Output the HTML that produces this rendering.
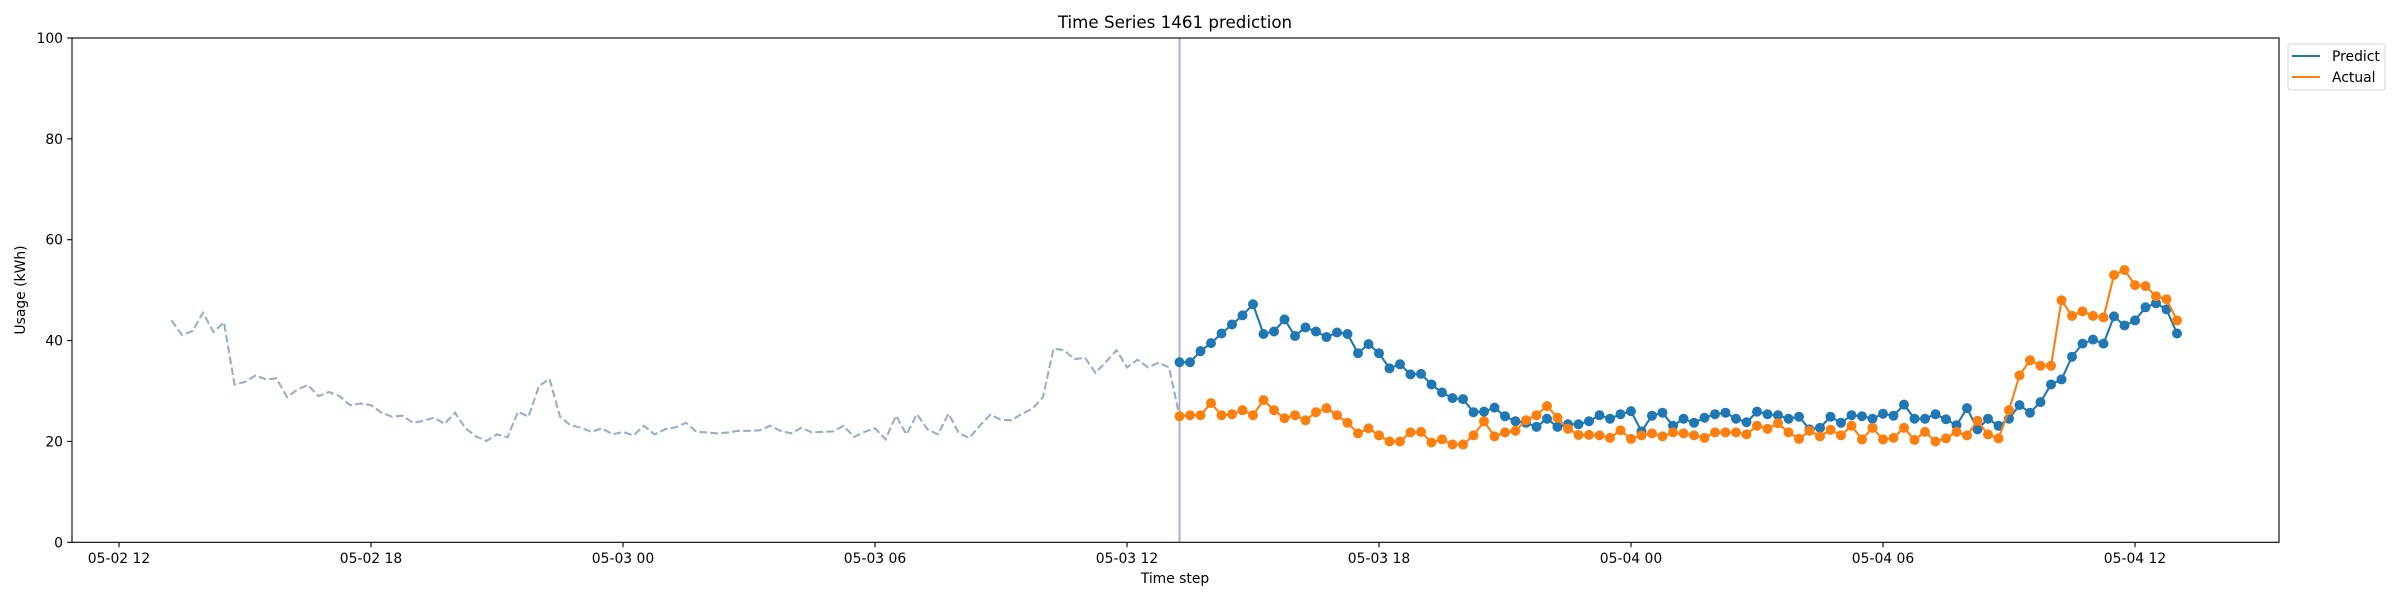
<!DOCTYPE html>
<html><head><meta charset="utf-8"><style>
html,body{margin:0;padding:0;background:#fff}
svg{display:block;font-family:"DejaVu Sans","Liberation Sans",sans-serif}
</style></head><body>
<svg id="chart" width="2400" height="600" viewBox="0 0 2400 600" xmlns="http://www.w3.org/2000/svg">
<rect x="0" y="0" width="2400" height="600" fill="#fff"/>
<text x="1175" y="28" font-size="16.7" text-anchor="middle">Time Series 1461 prediction</text>
<g id="series"></g>
<rect x="72" y="38" width="2207" height="504.3" fill="none" stroke="#000" stroke-width="1.1"/>
<g id="axes"></g>
<text x="1175" y="583" font-size="13.9" text-anchor="middle">Time step</text>
<text transform="translate(25,290) rotate(-90)" font-size="13.9" text-anchor="middle">Usage (kWh)</text>
<g>
<rect x="2288" y="44" width="97" height="46" rx="3" fill="#fff" stroke="#d6d6d6"/>
<line x1="2292" y1="56" x2="2320" y2="56" stroke="#1f77b4" stroke-width="2.1"/>
<text x="2332" y="61" font-size="13.9">Predict</text>
<line x1="2292" y1="77" x2="2320" y2="77" stroke="#ff7f0e" stroke-width="2.1"/>
<text x="2332" y="82" font-size="13.9">Actual</text>
</g>
</svg>
<script>
const history = [44.0,41.1,41.9,45.5,41.7,43.6,31.3,31.8,33.1,32.3,32.5,28.8,30.3,31.2,29.0,29.8,29.0,27.2,27.5,27.2,25.7,24.9,25.1,23.7,24.1,24.7,23.5,25.7,22.6,21.0,20.1,21.4,20.8,25.9,24.9,31.0,32.4,24.9,23.2,22.7,21.9,22.6,21.4,21.9,21.2,23.1,21.4,22.4,22.8,23.7,21.9,21.8,21.6,21.8,22.1,22.1,22.2,23.1,22.1,21.6,22.7,21.8,21.9,22.0,23.1,20.9,21.9,22.6,20.4,25.1,21.4,25.4,22.4,21.4,25.5,21.6,20.7,23.2,25.3,24.3,24.2,25.5,26.5,28.8,38.4,38.1,36.3,36.6,33.6,35.8,38.1,34.7,36.2,34.7,35.6,34.7];
const predict = [35.7,35.7,37.9,39.5,41.4,43.2,45.0,47.2,41.3,41.8,44.2,40.9,42.6,41.8,40.7,41.6,41.3,37.5,39.3,37.5,34.5,35.3,33.3,33.4,31.3,29.7,28.6,28.4,25.8,25.9,26.7,25.0,24.0,23.7,22.9,24.5,22.9,23.4,23.4,24.0,25.2,24.5,25.4,26.0,22.0,25.1,25.7,23.1,24.5,23.7,24.7,25.4,25.7,24.5,23.8,25.9,25.4,25.2,24.5,24.9,22.4,22.7,24.9,23.7,25.2,25.0,24.5,25.5,25.1,27.3,24.5,24.5,25.4,24.4,23.2,26.6,22.4,24.5,23.1,24.5,27.2,25.7,27.8,31.3,32.3,36.8,39.4,40.2,39.4,44.8,43.0,44.0,46.6,47.4,46.2,41.4];
const actual = [25.0,25.2,25.2,27.6,25.2,25.4,26.2,25.2,28.2,26.2,24.6,25.2,24.2,25.8,26.6,25.2,23.7,21.6,22.6,21.2,20.0,20.0,21.8,21.9,19.8,20.4,19.4,19.4,21.2,24.0,21.0,21.8,22.1,24.2,25.2,27.0,24.7,22.5,21.3,21.3,21.2,20.7,22.2,20.5,21.2,21.6,21.0,21.8,21.6,21.2,20.7,21.8,21.8,21.8,21.4,23.1,22.5,23.6,21.8,20.5,22.1,21.0,22.3,21.2,23.1,20.4,22.7,20.4,20.7,22.7,20.3,21.9,20.0,20.6,21.9,21.2,24.1,21.4,20.6,26.2,33.1,36.1,35.0,35.0,48.0,44.9,45.8,44.9,44.6,53.0,54.0,51.0,50.8,48.8,48.2,44.0];
const xTickLabels = ["05-02 12","05-02 18","05-03 00","05-03 06","05-03 12","05-03 18","05-04 00","05-04 06","05-04 12"];
const yTicks = [0,20,40,60,80,100];
const historyStart = 5; // quarter-hours after 05-02 12:00

const NS="http://www.w3.org/2000/svg";
function X(t){return 119 + t*10.5;}
function Y(v){return 542.3 - v*5.043;}
function mk(tag,attrs,parent){const e=document.createElementNS(NS,tag);for(const k in attrs)e.setAttribute(k,attrs[k]);parent.appendChild(e);return e;}
const axes=document.getElementById('axes'), series=document.getElementById('series');

xTickLabels.forEach((lab,i)=>{
  const x=X(i*24);
  const l=mk('line',{x1:x,y1:542.3,x2:x,y2:547.2,stroke:'#000','stroke-width':1.1},axes);
  
  
  const t=mk('text',{x:x,y:563,'font-size':13.9,'text-anchor':'middle'},axes);
  t.textContent=lab;
  
  
});
yTicks.forEach(v=>{
  const y=Y(v);
  const l=mk('line',{x1:67.1,y1:y,x2:72,y2:y,stroke:'#000','stroke-width':1.1},axes);
  
  
  const t=mk('text',{x:63,y:y+5,'font-size':13.9,'text-anchor':'end'},axes);
  t.textContent=v;
  
  
});

const predStart = historyStart + history.length;
let hp = history.map((v,i)=>X(historyStart+i).toFixed(1)+','+Y(v).toFixed(1));
hp.push(X(predStart).toFixed(1)+','+Y(actual[0]).toFixed(1));
const hl=mk('polyline',{points:hp.join(' '),fill:'none',stroke:'#98aecb','stroke-width':2.1,'stroke-dasharray':'7.7,3.3'},series);



const vl=mk('line',{x1:X(predStart),y1:38,x2:X(predStart),y2:542.3,stroke:'#a6b1cc','stroke-width':2},series);



function drawSeries(arr,color,name){
  const pts=arr.map((v,i)=>X(predStart+i).toFixed(1)+','+Y(v).toFixed(1));
  const pl=mk('polyline',{points:pts.join(' '),fill:'none',stroke:color,'stroke-width':2.1},series);
  
  
  arr.forEach((v,i)=>{
    const c=mk('circle',{cx:X(predStart+i),cy:Y(v),r:5,fill:color},series);
    
    
  });
}
drawSeries(predict,'#1f77b4','predict');
drawSeries(actual,'#ff7f0e','actual');
</script>
</body></html>
